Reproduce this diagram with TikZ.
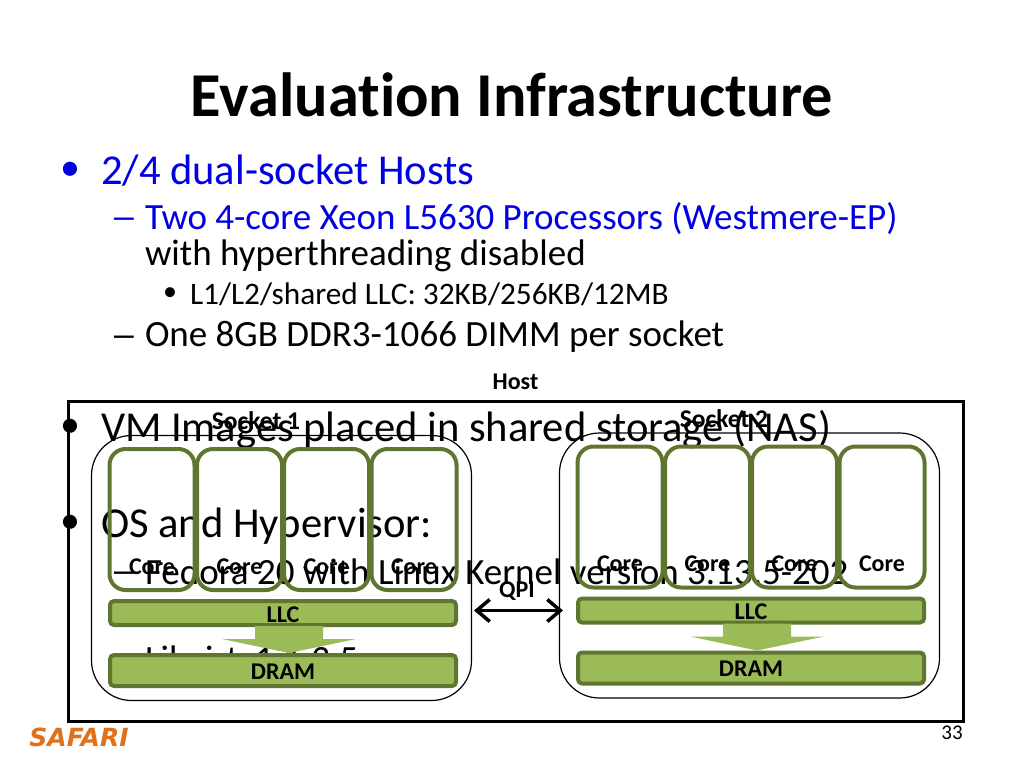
\documentclass[tikz,border=0pt]{standalone}
\usepackage{fontspec}
\usepackage{graphicx}
\usetikzlibrary{arrows.meta}
\setmainfont[Ligatures=NoCommon]{Carlito}
\newfontfamily\safarifont{DejaVu Sans}
\definecolor{slideblue}{HTML}{0000E0}
\definecolor{olive}{HTML}{5F7530}
\definecolor{leaf}{HTML}{9BBB59}
\definecolor{safari}{HTML}{E0701C}
\newcommand{\widedash}{\scalebox{1.5}[1]{–}}
\tikzset{
 txt/.style={inner sep=0pt,outer sep=0pt,anchor=base west,text=black},
 sz/.style={font=\fontsize{#1}{#1}\selectfont},
 lab/.style={inner sep=0pt,outer sep=0pt,anchor=base,font=\fontsize{24}{24}\selectfont\bfseries},
 socklab/.style={inner sep=0pt,outer sep=0pt,anchor=base,font=\fontsize{25.5}{25.5}\selectfont\bfseries},
 socketbox/.style={draw=black,line width=1.2pt,rounded corners=40pt,minimum width=380pt,minimum height=265pt,inner sep=0pt},
 corebox/.style={draw=olive,line width=4pt,rounded corners=16pt,minimum width=85pt,minimum height=141pt,inner sep=0pt},
 barbox/.style={draw=olive,fill=leaf,line width=4pt,rounded corners=4pt,minimum width=346pt,inner sep=0pt},
}
\begin{document}
\begin{tikzpicture}[x=1pt,y=-1pt]
\useasboundingbox (0,0) rectangle (1024,768);
\node[txt,anchor=base,font=\fontsize{62.4}{62.4}\selectfont\bfseries] (title) at (512,116) {Evaluation Infrastructure};
\node[txt,sz=40,text=slideblue] (b1) at (60,180) {•};
\node[txt,sz=42.6,text=slideblue] (t1) at (101,184) {2/4 dual-socket Hosts};
\node[txt,sz=37,text=slideblue] (d1) at (110,229) {\widedash};
\node[txt,sz=37,text=slideblue] (t2) at (145,229) {Two 4-core Xeon L5630 Processors (Westmere-EP)};
\node[txt,sz=37] (t3) at (145,265) {with hyperthreading disabled};
\node[txt,sz=28] (b2) at (163,300) {•};
\node[txt,sz=31.3] (t4) at (190,304) {L1/L2/shared LLC: 32KB/256KB/12MB};
\node[txt,sz=37] (d2) at (110,347) {\widedash};
\node[txt,sz=37] (t5) at (145,346) {One 8GB DDR3-1066 DIMM per socket};
\node[txt,sz=40] (b3) at (60,437) {•};
\node[txt,sz=42.6] (t6) at (101,441) {VM Images placed in shared storage (NAS)};
\node[txt,sz=40] (b4) at (60,533) {•};
\node[txt,sz=42.6] (t7) at (101,537) {OS and Hypervisor:};
\node[txt,sz=37] (d3) at (110,583) {\widedash};
\node[txt,sz=37] (t8) at (145,584) {Fedora 20 with Linux Kernel version 3.13.5-202};
\node[txt,sz=37] (t9) at (145,671) {Libvirt\hspace{8pt} 1.1.3.5};
\node[lab] (hostlab) at (515.5,389) {Host};
\node[draw=black,line width=3pt,minimum width=895pt,minimum height=320pt,inner sep=0pt] (host) at (516,561.5) {};
% socket 1
\node[socketbox] (s1) at (281.5,568) {};
\node[socklab] (s1lab) at (256,429.5) {Socket 1};
\node[corebox] (c11) at (152,519.5) {};
\node[corebox] (c12) at (239.5,519.5) {};
\node[corebox] (c13) at (326.5,519.5) {};
\node[corebox] (c14) at (414,519.5) {};
\node[lab] at (152,574) {Core};
\node[lab] at (239.5,574) {Core};
\node[lab] at (326.5,574) {Core};
\node[lab] at (414,574) {Core};
\node[barbox,minimum height=24pt] (l1) at (283,613) {};
\node[lab] at (283,622) {LLC};
\fill[leaf] (255,626)--(323,626)--(323,639)--(356,639)--(289,653)--(222,639)--(255,639)--cycle;
\node[barbox,minimum height=31pt] (m1) at (283,670.5) {};
\node[lab] at (283,679) {DRAM};
% socket 2
\begin{scope}[shift={(468,-2.5)}]
\node[socketbox] (s2) at (281.5,568) {};
\node[socklab] (s2lab) at (256,429.5) {Socket 2};
\node[corebox] (c21) at (152,519.5) {};
\node[corebox] (c22) at (239.5,519.5) {};
\node[corebox] (c23) at (326.5,519.5) {};
\node[corebox] (c24) at (414,519.5) {};
\node[lab] at (152,574) {Core};
\node[lab] at (239.5,574) {Core};
\node[lab] at (326.5,574) {Core};
\node[lab] at (414,574) {Core};
\node[barbox,minimum height=24pt] (l2) at (283,613) {};
\node[lab] at (283,622) {LLC};
\fill[leaf] (255,626)--(323,626)--(323,639)--(356,639)--(289,653)--(222,639)--(255,639)--cycle;
\node[barbox,minimum height=31pt] (m2) at (283,670.5) {};
\node[lab] at (283,679) {DRAM};
\end{scope}
\coordinate (qa) at (474,610.5);
\coordinate (qb) at (563,610.5);
\draw[line width=3.5pt,{Straight Barb[length=13pt,width=22pt]}-{Straight Barb[length=13pt,width=22pt]}] (qa) -- (qb);
\node[lab] (qpi) at (517,597) {QPI};
\node[txt,anchor=base,text=safari,font=\safarifont\fontsize{25}{25}\selectfont\bfseries\itshape] (logo) at (79,746) {SAFARI};
\node[txt,anchor=base,font=\fontsize{21}{21}\selectfont] (page) at (952,739) {33};
\end{tikzpicture}
\end{document}
